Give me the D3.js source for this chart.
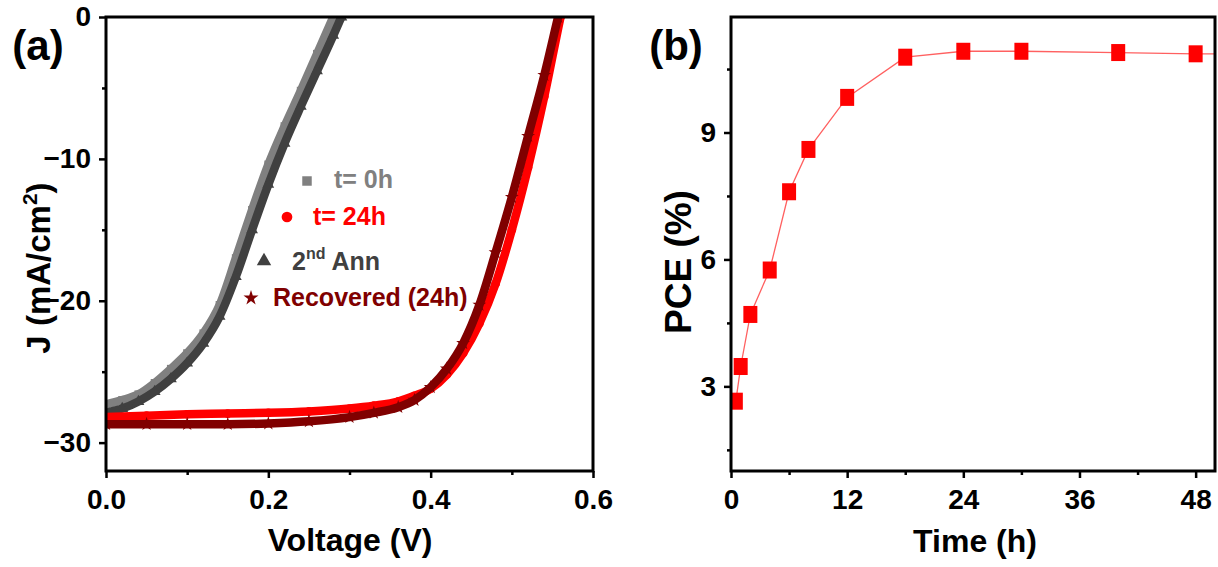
<!DOCTYPE html>
<html><head><meta charset="utf-8">
<script src="https://cdn.jsdelivr.net/npm/d3@7"></script>
<style>
body{margin:0;background:#fff}
svg{display:block}
text{font-family:"Liberation Sans",Arial,Helvetica,sans-serif;font-weight:bold}
</style>
</head><body>
<svg id="c" width="1218" height="567"></svg>
<script>
// ---------- Panel (a): J-V curves ----------
const seriesNames = ["t= 0h", "t= 24h", "2nd Ann", "Recovered (24h)"];
const seriesColors = ["#808080", "#ff0000", "#404040", "#800000"];

const V_t0  = [0,0.02,0.04,0.06,0.08,0.10,0.12,0.14,0.16,0.18,0.20,0.22,0.24,0.26,0.28,0.30];
const J_t0  = [-27.3,-27.0,-26.6,-25.8,-24.8,-23.7,-22.3,-20.3,-17.0,-13.6,-10.4,-7.7,-5.2,-2.6,0.0,2.6];

const V_ann = [0,0.02,0.04,0.06,0.08,0.10,0.12,0.14,0.16,0.18,0.20,0.22,0.24,0.26,0.28,0.29,0.31];
const J_ann = [-27.9,-27.6,-27.1,-26.4,-25.5,-24.4,-23.0,-21.1,-18.3,-15.0,-11.8,-8.9,-6.3,-3.8,-1.3,0.0,2.5];

const V_24  = [0,0.05,0.10,0.15,0.20,0.25,0.30,0.33,0.36,0.38,0.40,0.42,0.44,0.46,0.48,0.50,0.52,0.54,0.56,0.57];
const J_24  = [-28.2,-28.1,-28.0,-27.95,-27.9,-27.8,-27.6,-27.4,-27.1,-26.7,-26.2,-25.2,-23.7,-21.6,-18.8,-15.0,-10.6,-5.6,0.0,2.6];

const V_rec = [0,0.05,0.10,0.15,0.20,0.25,0.30,0.33,0.36,0.38,0.40,0.42,0.44,0.46,0.48,0.50,0.52,0.54,0.557,0.567];
const J_rec = [-28.7,-28.7,-28.7,-28.7,-28.65,-28.5,-28.2,-27.9,-27.5,-27.0,-26.1,-24.8,-23.0,-20.3,-16.6,-12.7,-8.4,-4.1,0.0,2.4];

const vTicks = [0.0, 0.2, 0.4, 0.6];
const vMinor = [0.1, 0.3, 0.5];
const jTicks = [0, -10, -20, -30];
const jMinor = [-5, -15, -25];

// ---------- Panel (b): PCE vs time ----------
const timeH = [0.5, 1, 2, 4, 6, 8, 12, 18, 24, 30, 40, 48, 60];
const pce   = [2.65, 3.47, 4.70, 5.75, 7.6, 8.6, 9.83, 10.78, 10.92, 10.92, 10.89, 10.86, 10.84];
const tTicks = [0, 12, 24, 36, 48];
const tMinor = [6, 18, 30, 42];
const pTicks = [3, 6, 9];
const pMinor = [1.5, 4.5, 7.5, 10.5];

const svg = d3.select("#c");

// scales
const xL = d3.scaleLinear().domain([0, 0.6]).range([106, 593]);
const yL = d3.scaleLinear().domain([-32, 0]).range([471, 17]);
const xR = d3.scaleLinear().domain([0, 50]).range([731, 1215]);
const yR = d3.scaleLinear().domain([1, 11.73]).range([471, 17]);

const defs = svg.append("defs");
defs.append("clipPath").attr("id","clipL").append("rect")
  .attr("x",xL.range()[0]).attr("y",yL.range()[1])
  .attr("width",xL.range()[1]-xL.range()[0]).attr("height",yL.range()[0]-yL.range()[1]);
defs.append("clipPath").attr("id","clipR").append("rect")
  .attr("x",xR.range()[0]).attr("y",yR.range()[1])
  .attr("width",xR.range()[1]-xR.range()[0]).attr("height",yR.range()[0]-yR.range()[1]);

function styleAxis(g, fs){
  g.select(".domain").remove();
  g.selectAll(".tick line").attr("stroke","#000").attr("stroke-width",2.5);
  g.selectAll(".tick text").attr("fill","#000").style("font-size",fs+"px");
}
function drawAxes(x, y, xt, xm, yt, ym, xfmt, yfmt){
  const b = y.range()[0];
  const l = x.range()[0];
  svg.append("g").attr("transform",`translate(0,${b})`)
    .call(d3.axisBottom(x).tickValues(xt).tickFormat(xfmt).tickSize(7).tickPadding(11))
    .call(g=>styleAxis(g,28));
  svg.append("g").attr("transform",`translate(0,${b})`)
    .call(d3.axisBottom(x).tickValues(xm).tickFormat("").tickSize(4))
    .call(g=>styleAxis(g,28));
  svg.append("g").attr("transform",`translate(${l},0)`)
    .call(d3.axisLeft(y).tickValues(yt).tickFormat(yfmt).tickSize(7).tickPadding(8))
    .call(g=>styleAxis(g,28));
  svg.append("g").attr("transform",`translate(${l},0)`)
    .call(d3.axisLeft(y).tickValues(ym).tickFormat("").tickSize(4))
    .call(g=>styleAxis(g,28));
  svg.append("rect")
    .attr("x",x.range()[0]).attr("y",y.range()[1])
    .attr("width",x.range()[1]-x.range()[0]).attr("height",y.range()[0]-y.range()[1])
    .attr("fill","none").attr("stroke","#000").attr("stroke-width",3);
}

// ---- panel (a) curves
const jvData = [
  {name:seriesNames[0], color:seriesColors[0], V:V_t0, J:J_t0, sym:d3.symbolSquare, sz:64},
  {name:seriesNames[2], color:seriesColors[2], V:V_ann, J:J_ann, sym:d3.symbolTriangle, sz:60},
  {name:seriesNames[1], color:seriesColors[1], V:V_24, J:J_24, sym:d3.symbolCircle, sz:60},
  {name:seriesNames[3], color:seriesColors[3], V:V_rec, J:J_rec, sym:d3.symbolStar, sz:60}
];
const gA = svg.append("g").attr("clip-path","url(#clipL)");
const lineA = d3.line().x(d=>xL(d[0])).y(d=>yL(d[1])).curve(d3.curveMonotoneX);
jvData.forEach(s=>{
  const pts = s.V.map((v,i)=>[v, s.J[i]]);
  gA.append("path").datum(pts).attr("d",lineA)
    .attr("fill","none").attr("stroke",s.color).attr("stroke-width",8.5).attr("stroke-linejoin","round");
  gA.selectAll(null).data(pts).enter().append("path")
    .attr("d", d3.symbol().type(s.sym).size(s.sz))
    .attr("transform", d=>`translate(${xL(d[0])},${yL(d[1])})`)
    .attr("fill", s.color);
});
drawAxes(xL, yL, vTicks, vMinor, jTicks, jMinor, d3.format(".1f"), d3.format("d"));

// legend (a)
const legendItems = [
  {i:0, sym:d3.symbolSquare, sx:307, sy:181, tx:334, ty:188},
  {i:1, sym:d3.symbolCircle, sx:287, sy:217, tx:313, ty:225},
  {i:2, sym:d3.symbolTriangle, sx:264, sy:261, tx:292, ty:270},
  {i:3, sym:d3.symbolStar, sx:251, sy:298, tx:273, ty:306}
];
legendItems.forEach(it=>{
  const col = seriesColors[it.i];
  svg.append("path").attr("d", d3.symbol().type(it.sym).size(it.i===3?70:90))
    .attr("transform",`translate(${it.sx},${it.sy})`).attr("fill",col);
  const t = svg.append("text").attr("x",it.tx).attr("y",it.ty).attr("fill",col).style("font-size","25px");
  if (it.i===2){
    t.append("tspan").text("2");
    t.append("tspan").text("nd").style("font-size","16px").attr("dy",-11);
    t.append("tspan").text(" Ann").attr("dy",11);
  } else {
    t.text(seriesNames[it.i]);
  }
});

// ---- panel (b)
const gB = svg.append("g").attr("clip-path","url(#clipR)");
const lineB = d3.line().x((d,i)=>xR(timeH[i])).y((d,i)=>yR(pce[i]));
gB.append("path").datum(pce).attr("d",lineB)
  .attr("fill","none").attr("stroke","#ff6060").attr("stroke-width",1.3);
gB.selectAll("rect.m").data(pce).enter().append("rect").attr("class","m")
  .attr("x",(d,i)=>xR(timeH[i])-7).attr("y",d=>yR(d)-8.5)
  .attr("width",14).attr("height",17).attr("fill","#ff0000");
drawAxes(xR, yR, tTicks, tMinor, pTicks, pMinor, d3.format("d"), d3.format("d"));

// titles
svg.append("text").attr("x",350).attr("y",551).attr("text-anchor","middle").style("font-size","32px").text("Voltage (V)");
svg.append("text").attr("x",975).attr("y",552).attr("text-anchor","middle").style("font-size","32px").text("Time (h)");
const jt = svg.append("text").attr("transform","translate(50,268) rotate(-90)").attr("text-anchor","middle").style("font-size","33px");
jt.append("tspan").text("J (mA/cm");
jt.append("tspan").text("2").style("font-size","21px").attr("dy",-13);
jt.append("tspan").text(")").attr("dy",13);
svg.append("text").attr("transform","translate(691,262) rotate(-90)").attr("text-anchor","middle").style("font-size","37px").text("PCE (%)");
svg.append("text").attr("x",38).attr("y",60).attr("text-anchor","middle").style("font-size","42px").text("(a)");
svg.append("text").attr("x",676).attr("y",60).attr("text-anchor","middle").style("font-size","42px").text("(b)");
</script>
</body></html>
